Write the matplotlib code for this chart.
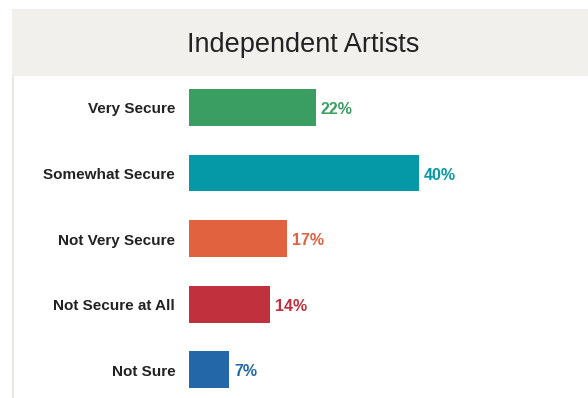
import matplotlib.pyplot as plt
from matplotlib.patches import Rectangle
from matplotlib.lines import Line2D

categories = ['Very Secure', 'Somewhat Secure', 'Not Very Secure', 'Not Secure at All', 'Not Sure']
values = [22, 40, 17, 14, 7]
colors = ['#3a9e62', '#0598a7', '#e0623e', '#c1303d', '#2467a8']
title = 'Independent Artists'

W, H = 588, 398
plt.rcParams['font.family'] = ['Liberation Sans', 'DejaVu Sans']
fig = plt.figure(figsize=(W / 100, H / 100), dpi=100)
fig.patch.set_facecolor('white')

# header band and left border
fig.patches.append(Rectangle((12 / W, 1 - 76 / H), 1 - 12 / W, 67 / H,
                             transform=fig.transFigure, facecolor='#f1f0ed',
                             edgecolor='none', zorder=0))
fig.lines.append(Line2D([13 / W, 13 / W], [0, 1 - 76 / H], transform=fig.transFigure,
                        color='#e8e8e6', linewidth=1.5))
fig.text(303 / W, 1 - 45 / H, title, ha='center', va='center',
         fontsize=19.5, color='#222222')

ax = fig.add_axes([189 / W, 0, 1 - 189 / W, 1 - 76 / H])
ax.set_facecolor('none')
ypos = list(range(len(categories)))
ax.barh(ypos, values, height=0.56, color=colors)
ax.set_xlim(0, 399 / 5.75)
ax.set_ylim(4.43, -0.48)
for y, v, c, name in zip(ypos, values, colors, categories):
    ax.text(v + 0.9, y + 0.03, f'{v}%', va='center', ha='left', color=c,
            fontsize=11.5, fontweight='bold')
    ax.text(-2.4, y + 0.03, name, va='center', ha='right', color='#222222',
            fontsize=11, fontweight='bold')
ax.axis('off')

fig.savefig('out.png', dpi=100)
